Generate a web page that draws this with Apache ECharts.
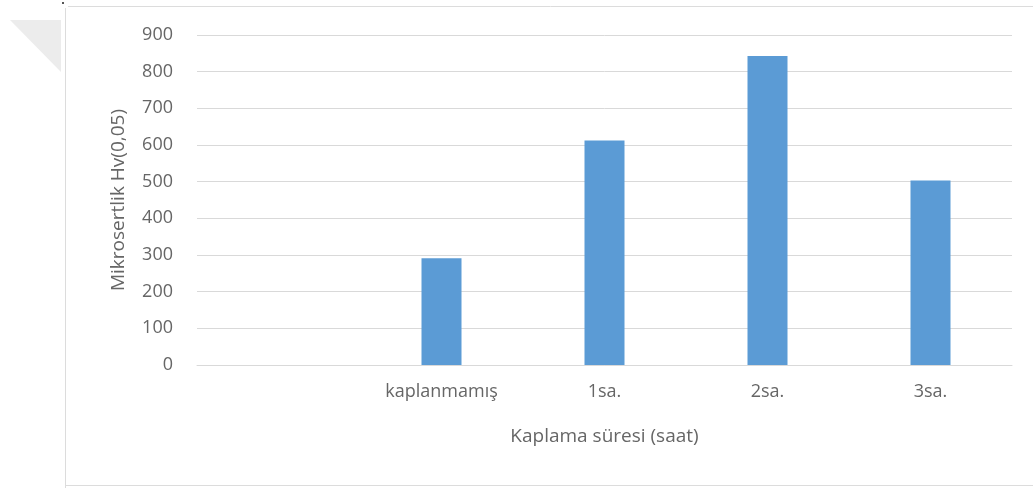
<!DOCTYPE html>
<html>
<head>
<meta charset="utf-8">
<script src="https://cdn.jsdelivr.net/npm/echarts@6/dist/echarts.min.js"></script>
<style>
  html, body { margin: 0; padding: 0; background: #fff; }
  #chart { width: 1033px; height: 488px; }
</style>
</head>
<body>
<div id="chart"></div>
<script>
// Coating time categories (first slot intentionally left blank)
const categories = ['', 'kaplanmamış', '1sa.', '2sa.', '3sa.'];
// Microhardness values, Hv(0,05)
const hardness = [null, 291, 612, 843, 503];
// Value-axis range
const yMin = 0;
const yMax = 900;
const yStep = 100;

const textColor = '#666666';
const gridColor = '#d9d9d9';
const fontFamily = '"Open Sans", "DejaVu Sans", sans-serif';

const chart = echarts.init(document.getElementById('chart'));
chart.setOption({
  animation: false,
  backgroundColor: '#ffffff',
  grid: { left: 197, right: 21, top: 35, bottom: 123, containLabel: false },
  xAxis: {
    type: 'category',
    data: categories,
    name: 'Kaplama süresi (saat)',
    nameLocation: 'middle',
    nameGap: 62,
    nameTextStyle: { color: textColor, fontSize: 19, fontFamily: fontFamily },
    axisLine: { show: true, lineStyle: { color: gridColor, width: 1 } },
    axisTick: { show: false },
    axisLabel: { color: textColor, fontSize: 18, fontFamily: fontFamily, margin: 18 },
    splitLine: { show: false }
  },
  yAxis: {
    type: 'value',
    min: yMin,
    max: yMax,
    interval: yStep,
    name: 'Mikrosertlik Hv(0,05)',
    nameLocation: 'middle',
    nameGap: 69,
    nameRotate: 90,
    nameTextStyle: { color: textColor, fontSize: 19, fontFamily: fontFamily },
    axisLine: { show: false },
    axisTick: { show: false },
    axisLabel: { color: textColor, fontSize: 18, fontFamily: fontFamily, margin: 24 },
    splitLine: { show: true, lineStyle: { color: gridColor, width: 1 } }
  },
  series: [{
    type: 'bar',
    data: hardness,
    barWidth: 40,
    itemStyle: { color: '#5b9bd5' }
  }],
  graphic: [
    // chart-area frame
    { type: 'line', shape: { x1: 65.5, y1: 8, x2: 65.5, y2: 488 }, style: { stroke: '#dcdcdc', lineWidth: 1 } },
    { type: 'line', shape: { x1: 68, y1: 6.5, x2: 1033, y2: 6.5 }, style: { stroke: '#dcdcdc', lineWidth: 1 } },
    { type: 'line', shape: { x1: 65, y1: 485.5, x2: 1033, y2: 485.5 }, style: { stroke: '#dcdcdc', lineWidth: 1 } },
    // corner marker
    { type: 'polygon', shape: { points: [[10, 20], [61, 20], [61, 72]] }, style: { fill: '#ececec' } },
    { type: 'rect', shape: { x: 62, y: 2, width: 2, height: 2 }, style: { fill: '#555555' } }
  ]
});
</script>
</body>
</html>
